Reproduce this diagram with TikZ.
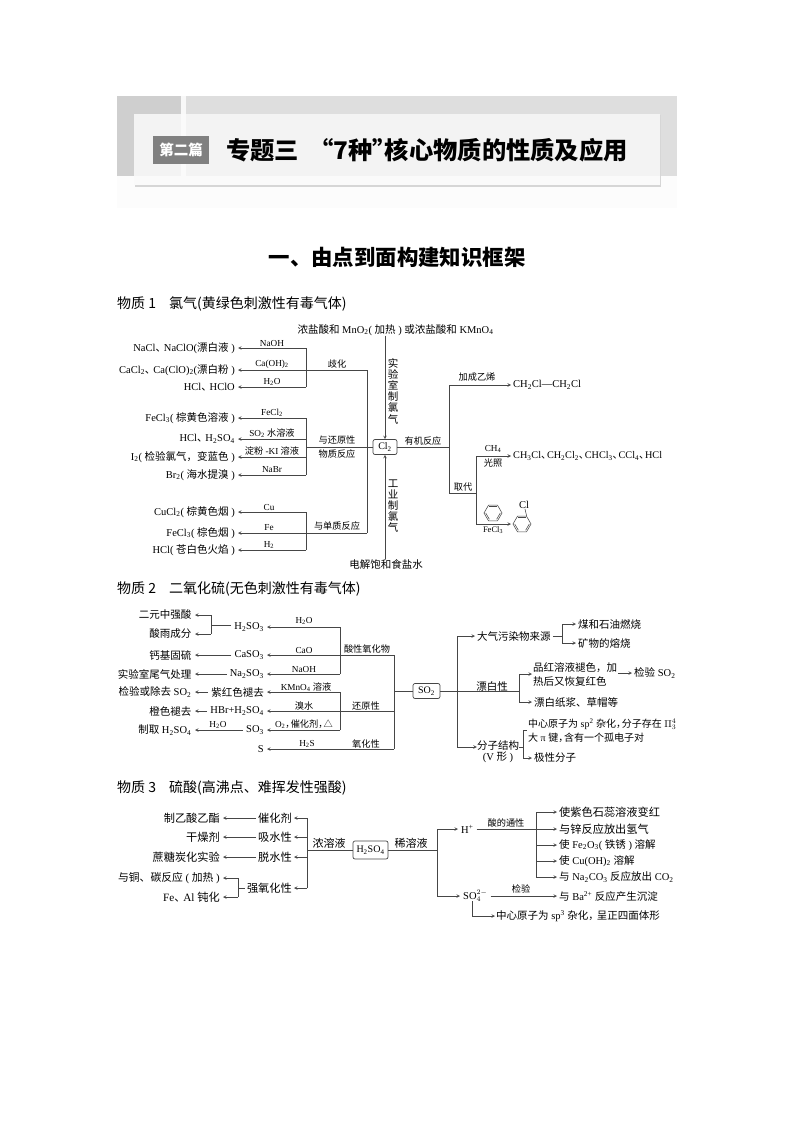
\documentclass[tikz,border=0pt]{standalone}
\usepackage{fontspec}
\usepackage{tikz}
\usetikzlibrary{shapes.geometric,positioning,calc}
\setmainfont{Liberation Serif}
\newfontfamily\cjkfont{Noto Sans CJK SC}
\definecolor{linegray}{RGB}{70,70,70}
\definecolor{bandgray}{RGB}{222,222,222}
\definecolor{stripgray}{RGB}{207,207,207}
\definecolor{panelgray}{RGB}{243,243,243}
\definecolor{edgegray}{RGB}{214,214,214}
\definecolor{tabgray}{RGB}{128,128,128}
\newcommand{\zh}[1]{{\cjkfont #1}}
\newcommand{\dn}[1]{\textsubscript{#1}}
\newcommand{\sep}{\zh{、}\hspace{-0.42em}}
\newcommand{\sepw}{\zh{、}\hspace{-0.2em}}
\newcommand{\cma}{\zh{，}\hspace{-0.42em}}
\newcommand{\bodyfont}{\fontsize{10.5}{14}\selectfont}
\newcommand{\widefont}{\fontsize{11.2}{14}\selectfont}
\newcommand{\tagfont}{\fontsize{9.2}{11}\selectfont}
\newcommand{\benzene}[1]{\foreach \k/\m in {1/2,3/4,5/6} \draw[flow] ($(#1.corner \k)!0.22!(#1.center)$) -- ($(#1.corner \m)!0.22!(#1.center)$);}
\begin{document}
\begin{tikzpicture}[
    x=1pt, y=-1pt,
    >=stealth,
    flow/.style={draw=linegray, line width=0.55pt},
    litem/.style={anchor=east, font=\bodyfont, inner xsep=3pt, inner ysep=0pt},
    ritem/.style={anchor=west, font=\bodyfont, inner xsep=2pt, inner ysep=0pt, align=left},
    citem/.style={font=\bodyfont, inner sep=0pt, align=center},
    tag/.style={font=\tagfont, inner sep=0pt},
    upright/.style={font=\fontsize{10.5}{11.2}\selectfont, inner sep=0pt, align=center},
    sbox/.style={draw=linegray, fill=white, rounded corners=2pt, line width=0.7pt, font=\fontsize{10}{12}\selectfont, inner sep=0pt, minimum height=15pt},
    ring/.style={regular polygon, regular polygon sides=6, draw=linegray, line width=0.55pt, minimum size=18pt, inner sep=0pt},
    heading/.style={anchor=west, font=\fontsize{14}{16}\selectfont\cjkfont, inner sep=0pt}
]
    \useasboundingbox (0,0) rectangle (794,1123);

    % title band
    \fill[black!1] (117,176) rectangle (677,208);
    \fill[bandgray] (117,96) rectangle (677,176);
    \fill[stripgray] (117,96) rectangle (181,176);
    \fill[white!80!bandgray] (181,96) rectangle (186,176);
    \fill[edgegray] (135,115) rectangle (661,187);
    \fill[black!2] (134,114) rectangle (660,185.5);
    \fill[panelgray] (134,114) rectangle (660,176);
    \fill[black!2] (181,114) rectangle (186,176);
    \node (tab) [fill=tabgray, text=white, font=\fontsize{14.5}{16}\bfseries\cjkfont, minimum width=56pt, minimum height=28pt, inner sep=0pt] at (181,150) {第二篇};
    \node (title) [anchor=west, font=\fontsize{24.3}{28}\bfseries\cjkfont, inner sep=0pt] at (226,150) {专题三\hspace{10pt}“7种”\hspace{-12pt}核心物质的性质及应用};
    \node (part) [font=\fontsize{21.4}{24}\bfseries\cjkfont, inner sep=0pt] at (397,257) {一、由点到面构建知识框架};

    % chlorine
    \node (head1) [heading] at (117,304) {物质 1\hspace{13pt}氯气(黄绿色刺激性有毒气体)};
    \node (cl) [sbox, minimum width=24pt] at (385,447) {Cl\dn{2}};
    \coordinate (busa) at (306,447);
    \coordinate (busb) at (367,447);
    \coordinate (busc) at (449,447);
    \coordinate (busd) at (476,493);

    \node (nacl) [litem] at (238,348) {NaCl\sepw NaClO(\zh{漂白液} )};
    \node (cacl) [litem] at (238,370) {CaCl\dn{2}\sepw Ca(ClO)\dn{2}(\zh{漂白粉} )};
    \node (hclo) [litem] at (238,387) {HCl\sepw HClO};
    \node (fecla) [litem] at (238,418) {FeCl\dn{3}( \zh{棕黄色溶液} )};
    \node (hcla) [litem] at (238,439) {HCl\sepw H\dn{2}SO\dn{4}};
    \node (iod) [litem] at (238,457) {I\dn{2}( \zh{检验氯气，变蓝色} )};
    \node (brom) [litem] at (238,475) {Br\dn{2}( \zh{海水提溴} )};
    \node (cucl) [litem] at (238,512) {CuCl\dn{2}( \zh{棕黄色烟} )};
    \node (feclb) [litem] at (238,533) {FeCl\dn{3}( \zh{棕色烟} )};
    \node (hclb) [litem] at (238,550) {HCl( \zh{苍白色火焰} )};

    \node (tnaoh) [tag] at (272,343) {NaOH};
    \node (tcaoh) [tag] at (272,364) {Ca(OH)\dn{2}};
    \node (thoa) [tag] at (272,382) {H\dn{2}O};
    \node (tfecl) [tag] at (272,413) {FeCl\dn{2}};
    \node (tsoa) [tag] at (272,433) {SO\dn{2} \zh{水溶液}};
    \node (tki) [tag] at (272,451) {\zh{淀粉} -KI \zh{溶液}};
    \node (tnabr) [tag] at (272,470) {NaBr};
    \node (tcu) [tag] at (269,507) {Cu};
    \node (tfe) [tag] at (269,528) {Fe};
    \node (thb) [tag] at (269,545) {H\dn{2}};
    \node (tqi) [tag] at (337,364) {\zh{歧化}};
    \node (tred) [tag] at (337,440) {\zh{与还原性}};
    \node (treb) [tag] at (337,454) {\zh{物质反应}};
    \node (tele) [tag] at (337,526) {\zh{与单质反应}};

    \foreach \n in {nacl,hclo} \draw[flow,->] (busa |- \n) -- (\n);
    \foreach \n in {fecla,hcla,iod,brom} \draw[flow,->] (busa |- \n) -- (\n);
    \foreach \n in {cucl,hclb} \draw[flow,->] (busa |- \n) -- (\n);
    \foreach \n in {cacl,feclb} \draw[flow,->] (busb |- \n) -- (\n);
    \draw[flow] (busa |- nacl) -- (busa |- hclo);
    \draw[flow] (busa |- fecla) -- (busa |- brom);
    \draw[flow] (busa |- cucl) -- (busa |- hclb);
    \draw[flow] (busb |- cacl) -- (busb |- feclb);
    \draw[flow] (busa) -- (cl);

    \node (labsrc) [citem] at (395.5,330) {\zh{浓盐酸和} MnO\dn{2}( \zh{加热} ) \zh{或浓盐酸和} KMnO\dn{4}};
    \node (elect) [citem] at (386,564) {\zh{电解饱和食盐水}};
    \draw[flow,->] (labsrc.south -| cl) -- (cl);
    \draw[flow,->] (elect.north -| cl) -- (cl);
    \node (vlab) [upright] at (393,391) {\zh{实}\\\zh{验}\\\zh{室}\\\zh{制}\\\zh{氯}\\\zh{气}};
    \node (vind) [upright] at (393,506) {\zh{工}\\\zh{业}\\\zh{制}\\\zh{氯}\\\zh{气}};

    \draw[flow] (cl) -- (busc);
    \node (torg) [tag] at (423,441) {\zh{有机反应}};
    \node (ccl) [ritem] at (511,385) {CH\dn{2}Cl—CH\dn{2}Cl};
    \node (subs) [ritem, font=\fontsize{10.2}{14}\selectfont] at (511,456) {CH\dn{3}Cl\sep CH\dn{2}Cl\dn{2}\sep CHCl\dn{3}\sep CCl\dn{4}\sep HCl};
    \coordinate (phend) at (511,524);
    \node (tadd) [tag] at (477,377) {\zh{加成乙烯}};
    \node (tsub) [tag] at (463,487) {\zh{取代}};
    \node (tch) [tag] at (493,449) {CH\dn{4}};
    \node (tlight) [tag] at (493,463) {\zh{光照}};
    \node (tfec) [tag, font=\fontsize{8.5}{10}\selectfont] at (493,530) {FeCl\dn{3}};
    \draw[flow,->] (busc |- ccl) -- (ccl);
    \draw[flow] (busc |- ccl) -- (busc |- busd) -- (busd);
    \draw[flow,->] (busd |- subs) -- (subs);
    \draw[flow,->] (busd |- subs) -- (busd |- phend) -- (phend);
    \node (pha) [ring] at (493,513) {};
    \node (phb) [ring] at (522,524) {};
    \node (tclb) [citem] at (524,505) {Cl};
    \benzene{pha}
    \benzene{phb}
    \draw[flow] (phb.corner 1) -- (tclb);

    % sulfur dioxide
    \node (head2) [heading] at (117,589) {物质 2\hspace{13pt}二氧化硫(无色刺激性有毒气体)};
    \node (so) [sbox, minimum width=27pt] at (426.5,691) {SO\dn{2}};
    \coordinate (bussa) at (340,691);
    \coordinate (bussb) at (394,691);
    \coordinate (bussc) at (457,691);
    \coordinate (brack) at (211,625);

    \node (acid) [litem, inner xsep=3.5pt] at (195,615) {\zh{二元中强酸}};
    \node (rain) [litem, inner xsep=3.5pt] at (195,634) {\zh{酸雨成分}};
    \node (fix) [litem, inner xsep=3.5pt] at (195,655) {\zh{钙基固硫}};
    \node (tail) [litem, inner xsep=3.5pt] at (195,674) {\zh{实验室尾气处理}};
    \node (test) [litem, inner xsep=3.5pt] at (195,692) {\zh{检验或除去} SO\dn{2}};
    \node (fade) [litem, inner xsep=3.5pt] at (195,711) {\zh{橙色褪去}};
    \node (make) [litem, inner xsep=3.5pt] at (195,730) {\zh{制取} H\dn{2}SO\dn{4}};

    \node (hso) [litem] at (267,627) {H\dn{2}SO\dn{3}};
    \node (caso) [litem] at (267,655) {CaSO\dn{3}};
    \node (naso) [litem] at (267,674) {Na\dn{2}SO\dn{3}};
    \node (purp) [litem] at (267,692) {\zh{紫红色褪去}};
    \node (hbr) [litem] at (267,711) {HBr+H\dn{2}SO\dn{4}};
    \node (sot) [litem] at (267,730) {SO\dn{3}};
    \node (sul) [litem] at (267,749) {S};

    \node (thob) [tag] at (304,621) {H\dn{2}O};
    \node (tcao) [tag] at (304,650) {CaO};
    \node (tnaohb) [tag] at (304,669) {NaOH};
    \node (tkmn) [tag] at (306,687) {KMnO\dn{4} \zh{溶液}};
    \node (tbr) [tag] at (304,706) {\zh{溴水}};
    \node (tcat) [tag] at (304,724) {O\dn{2}\cma\zh{催化剂}\cma\zh{△}};
    \node (ths) [tag] at (307,744) {H\dn{2}S};
    \node (thoc) [tag] at (218,725) {H\dn{2}O};
    \node (toxa) [tag] at (367,649) {\zh{酸性氧化物}};
    \node (toxb) [tag] at (366,706) {\zh{还原性}};
    \node (toxc) [tag] at (366,744) {\zh{氧化性}};

    \foreach \n in {hso,naso,purp,sot} \draw[flow,->] (bussa |- \n) -- (\n);
    \foreach \n in {caso,hbr,sul} \draw[flow,->] (bussb |- \n) -- (\n);
    \draw[flow] (bussa |- hso) -- (bussa |- naso);
    \draw[flow] (bussa |- purp) -- (bussa |- sot);
    \draw[flow] (bussb |- caso) -- (bussb |- sul);
    \draw[flow] (bussb) -- (so);
    \draw[flow,->] (caso) -- (fix);
    \draw[flow,->] (naso) -- (tail);
    \draw[flow,->] (purp) -- (test);
    \draw[flow,->] (hbr) -- (fade);
    \draw[flow,->] (sot) -- (make);
    \draw[flow] (hso.west |- brack) -- (brack);
    \draw[flow] (brack |- acid) -- (brack |- rain);
    \foreach \n in {acid,rain} \draw[flow,->] (brack |- \n) -- (\n);

    \node (pol) [ritem] at (475,636) {\zh{大气污染物来源}};
    \node (coal) [ritem] at (576,624) {\zh{煤和石油燃烧}};
    \node (ore) [ritem] at (576,643) {\zh{矿物的熔烧}};
    \node (red) [ritem, inner xsep=1pt] at (532,674) {\zh{品红溶液褪色，加}\\\zh{热后又恢复红色}};
    \node (chk) [ritem] at (632,673) {\zh{检验} SO\dn{2}};
    \node (paper) [ritem] at (532,702) {\zh{漂白纸浆、草帽等}};
    \node (tble) [tag, font=\bodyfont] at (492,686) {\zh{漂白性}};
    \node (struct) [citem] at (498,751.5) {\zh{分子结构}\\[-3pt](V \zh{形} )};
    \node (cen) [ritem, inner xsep=1pt, font=\fontsize{10}{14}\selectfont] at (527,730.5) {\zh{中心原子为} sp\textsuperscript{2} \zh{杂化}\cma\zh{分子存在} $\Pi_3^4$\\\zh{大} π \zh{键}\cma\zh{含有一个孤电子对}};
    \node (polar) [ritem] at (532,758) {\zh{极性分子}};
    \coordinate (brb) at (562,636);
    \coordinate (brc) at (519,691);
    \coordinate (brd) at (523,747);

    \draw[flow] (so) -- (bussc);
    \draw[flow] (bussc |- pol) -- (bussc |- brd);
    \draw[flow,->] (bussc |- pol) -- (pol);
    \draw[flow,->] (bussc |- brd) -- (struct.west |- brd);
    \draw[flow] (pol) -- (brb);
    \draw[flow] (brb |- coal) -- (brb |- ore);
    \foreach \n in {coal,ore} \draw[flow,->] (brb |- \n) -- (\n);
    \draw[flow] (bussc) -- (brc);
    \draw[flow] (brc |- red) -- (brc |- paper);
    \foreach \n in {red,paper} \draw[flow,->] (brc |- \n) -- (\n);
    \draw[flow,->] (red.east |- chk) -- (chk);
    \draw[flow] (struct.east |- brd) -- (brd);
    \draw[flow] (brd |- cen) -- (brd |- polar);
    \draw[flow,->] (brd |- polar) -- (polar);
    \draw[flow] (brd |- cen) -- (cen);

    % sulfuric acid
    \node (head3) [heading] at (117,788) {物质 3\hspace{13pt}硫酸(高沸点、难挥发性强酸)};
    \node (hs) [sbox, minimum width=35pt, minimum height=18pt] at (370.5,850) {H\dn{2}SO\dn{4}};
    \coordinate (busg) at (307,850);
    \coordinate (bush) at (437,850);
    \coordinate (busi) at (536,829);
    \coordinate (brg) at (238,888);
    \coordinate (soleg) at (472,901);

    \node (ester) [litem, font=\widefont] at (223,818) {\zh{制乙酸乙酯}};
    \node (dry) [litem, font=\widefont] at (223,837) {\zh{干燥剂}};
    \node (sug) [litem, font=\widefont] at (223,857) {\zh{蔗糖炭化实验}};
    \node (cur) [litem, font=\fontsize{10.8}{14}\selectfont] at (223,878) {\zh{与铜、碳反应} ( \zh{加热} )};
    \node (pas) [litem, font=\widefont] at (223,897) {Fe\sepw Al \zh{钝化}};
    \node (cat) [litem, font=\widefont, inner xsep=2pt] at (294,818) {\zh{催化剂}};
    \node (abs) [litem, font=\widefont, inner xsep=2pt] at (294,837) {\zh{吸水性}};
    \node (deh) [litem, font=\widefont, inner xsep=2pt] at (294,857) {\zh{脱水性}};
    \node (oxi) [litem, font=\widefont, inner xsep=2pt] at (294,888) {\zh{强氧化性}};
    \node (tcon) [tag, font=\fontsize{11}{14}\selectfont] at (329,843) {\zh{浓溶液}};
    \node (tdil) [tag, font=\fontsize{11}{14}\selectfont] at (411,843) {\zh{稀溶液}};

    \foreach \n in {cat,abs,deh,oxi} \draw[flow,->] (busg |- \n) -- (\n);
    \draw[flow] (busg |- cat) -- (busg |- oxi);
    \draw[flow] (hs) -- (busg);
    \draw[flow,->] (cat) -- (ester);
    \draw[flow,->] (abs) -- (dry);
    \draw[flow,->] (deh) -- (sug);
    \draw[flow] (oxi) -- (brg);
    \draw[flow] (brg |- cur) -- (brg |- pas);
    \foreach \n in {cur,pas} \draw[flow,->] (brg |- \n) -- (\n);

    \node (hion) [ritem, inner xsep=3pt] at (458,829) {H\textsuperscript{+}};
    \node (soion) [ritem, inner xsep=3pt] at (460,896) {SO$_4^{2-}$};
    \node (lit) [ritem, font=\widefont] at (557,812) {\zh{使紫色石蕊溶液变红}};
    \node (zn) [ritem, font=\widefont] at (557,829) {\zh{与锌反应放出氢气}};
    \node (rust) [ritem] at (557,845) {\zh{使} Fe\dn{2}O\dn{3}( \zh{铁锈} ) \zh{溶解}};
    \node (cuoh) [ritem] at (557,861) {\zh{使} Cu(OH)\dn{2} \zh{溶解}};
    \node (naco) [ritem] at (557,877) {\zh{与} Na\dn{2}CO\dn{3} \zh{反应放出} CO\dn{2}};
    \node (ba) [ritem] at (557,896) {\zh{与} Ba\textsuperscript{2+} \zh{反应产生沉淀}};
    \node (hyb) [ritem, inner xsep=1pt] at (495,916) {\zh{中心原子为} sp\textsuperscript{3} \zh{杂化，}\hspace{-2pt}\zh{呈正四面体形}};
    \node (tcom) [tag] at (506,823) {\zh{酸的通性}};
    \node (tchk) [tag] at (521,889) {\zh{检验}};

    \draw[flow] (hs) -- (bush);
    \draw[flow] (bush |- hion) -- (bush |- soion);
    \foreach \n in {hion,soion} \draw[flow,->] (bush |- \n) -- (\n);
    \draw[flow] (hion) -- (busi);
    \draw[flow] (busi |- lit) -- (busi |- naco);
    \foreach \n in {lit,zn,rust,cuoh,naco} \draw[flow,->] (busi |- \n) -- (\n);
    \draw[flow,->] (soion) -- (ba);
    \draw[flow,->] (soleg) |- (hyb);
\end{tikzpicture}
\end{document}
